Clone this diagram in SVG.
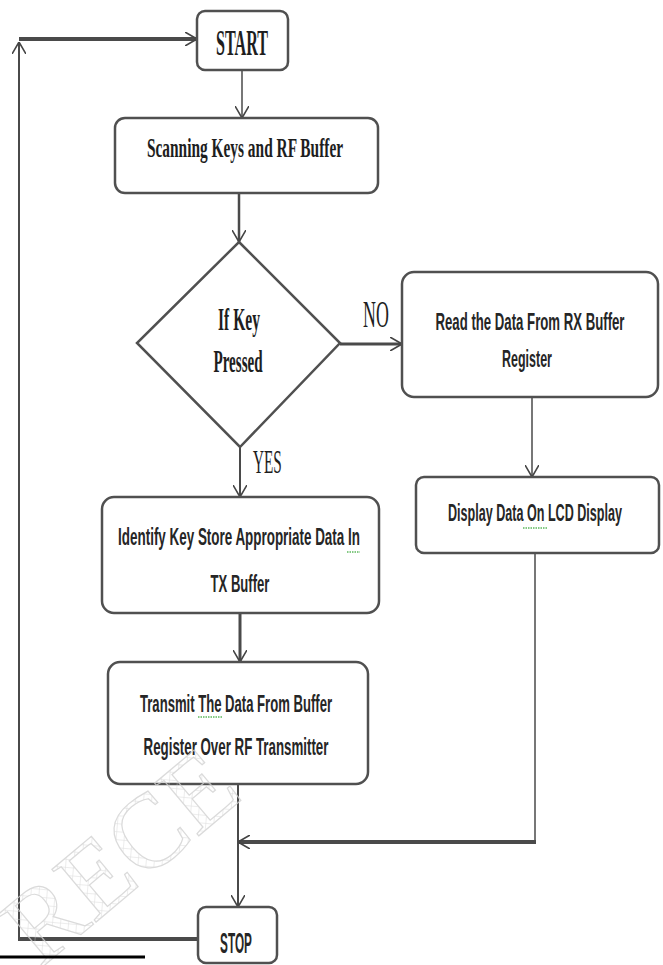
<svg xmlns="http://www.w3.org/2000/svg" width="663" height="965" viewBox="0 0 663 965">
<defs>
<style>
.box{fill:#fff;stroke:#505050;stroke-width:2.5}
.serif{font-family:"Liberation Serif","Times New Roman",serif;font-weight:bold;fill:#1e1e1e;text-anchor:middle}
.sans{font-family:"Liberation Sans",Arial,sans-serif;font-weight:bold;fill:#262626;text-anchor:middle}
.lbl{font-family:"Liberation Serif","Times New Roman",serif;fill:#1e1e1e}
.con{fill:none;stroke:#4a4a4a;stroke-linejoin:miter}
.sq{stroke:#5cb85c;stroke-width:1.5;stroke-dasharray:1.5 1;fill:none}
</style>
<marker id="arr" viewBox="0 0 12 14" refX="12" refY="7" markerWidth="12" markerHeight="14" markerUnits="userSpaceOnUse" orient="auto">
<path d="M0,0 L12,7 L0,14" fill="none" stroke="#444" stroke-width="1.6"/>
</marker>
<pattern id="hatch" width="8" height="8" patternUnits="userSpaceOnUse" patternTransform="rotate(45)">
<path d="M0,0 L0,8 M0,0 L8,0" stroke="#d4d4d4" stroke-width="1"/>
</pattern>
</defs>
<rect width="663" height="965" fill="#fff"/>
<g id="connectors">
<line class="con" x1="242" y1="70" x2="242" y2="118" stroke-width="1.5" marker-end="url(#arr)"/>
<line class="con" x1="239" y1="193" x2="239" y2="242" stroke-width="2.5" marker-end="url(#arr)"/>
<line class="con" x1="340" y1="344" x2="402" y2="344" stroke-width="3" marker-end="url(#arr)"/>
<line class="con" x1="240" y1="447" x2="240" y2="497" stroke-width="2" marker-end="url(#arr)"/>
<line class="con" x1="532" y1="397" x2="532" y2="477" stroke-width="1.5" marker-end="url(#arr)"/>
<line class="con" x1="240" y1="613" x2="240" y2="662" stroke-width="3" marker-end="url(#arr)"/>
<line class="con" x1="238" y1="784" x2="238" y2="907" stroke-width="2" marker-end="url(#arr)"/>
<line class="con" x1="535" y1="553" x2="535" y2="842" stroke-width="1.5"/>
<line class="con" x1="536" y1="842" x2="238" y2="842" stroke-width="4" marker-end="url(#arr)"/>
<line class="con" x1="198" y1="939" x2="19" y2="939" stroke-width="4"/>
<line class="con" x1="19" y1="941" x2="19" y2="42" stroke-width="2" marker-end="url(#arr)"/>
<line class="con" x1="19" y1="39" x2="197" y2="39" stroke-width="4" marker-end="url(#arr)"/>
</g>
<g id="start">
<rect class="box" x="197" y="11" width="91" height="59" rx="8"/>
<text class="serif" transform="translate(242,55) scale(0.5,1)" font-size="36" textLength="104" lengthAdjust="spacingAndGlyphs">START</text>
</g>
<g id="scan">
<rect class="box" x="115" y="118" width="263" height="75" rx="10"/>
<text class="serif" transform="translate(245,157) scale(0.6,1)" font-size="28" textLength="327" lengthAdjust="spacingAndGlyphs">Scanning Keys and RF Buffer</text>
</g>
<g id="decision">
<polygon class="box" points="239,242 340,343 240,447 137,343"/>
<text class="serif" transform="translate(239,330) scale(0.6,1)" font-size="32" font-weight="normal" textLength="70" lengthAdjust="spacingAndGlyphs">If Key</text>
<text class="serif" transform="translate(238,372) scale(0.6,1)" font-size="31" font-weight="normal" textLength="82" lengthAdjust="spacingAndGlyphs">Pressed</text>
</g>
<g id="labels">
<text class="lbl" transform="translate(363,327) scale(0.6,1)" font-size="38" textLength="43" lengthAdjust="spacingAndGlyphs">NO</text>
<text class="lbl" transform="translate(253,473) scale(0.6,1)" font-size="33" textLength="48" lengthAdjust="spacingAndGlyphs">YES</text>
</g>
<g id="read">
<rect class="box" x="402" y="272" width="256" height="125" rx="12"/>
<text class="sans" transform="translate(530,330) scale(0.6,1)" font-size="24" textLength="315" lengthAdjust="spacingAndGlyphs">Read the Data From RX Buffer</text>
<text class="sans" transform="translate(527,367) scale(0.6,1)" font-size="24" textLength="83" lengthAdjust="spacingAndGlyphs">Register</text>
</g>
<g id="display">
<rect class="box" x="416" y="477" width="243" height="76" rx="8"/>
<text class="sans" transform="translate(535,521) scale(0.6,1)" font-size="24" textLength="290" lengthAdjust="spacingAndGlyphs">Display Data On LCD Display</text>
<path class="sq" d="M523,528 L547,528"/>
</g>
<g id="identify">
<rect class="box" x="102" y="497" width="277" height="116" rx="12"/>
<text class="sans" transform="translate(239,545) scale(0.6,1)" font-size="24" textLength="403" lengthAdjust="spacingAndGlyphs">Identify Key Store Appropriate Data In</text>
<text class="sans" transform="translate(240,592) scale(0.6,1)" font-size="24" textLength="98" lengthAdjust="spacingAndGlyphs">TX Buffer</text>
<path class="sq" d="M347,552 L360,552"/>
</g>
<g id="transmit">
<rect class="box" x="108" y="662" width="260" height="122" rx="12"/>
<text class="sans" transform="translate(236,712) scale(0.6,1)" font-size="24" textLength="320" lengthAdjust="spacingAndGlyphs">Transmit The Data From Buffer</text>
<text class="sans" transform="translate(236,755) scale(0.6,1)" font-size="24" textLength="308" lengthAdjust="spacingAndGlyphs">Register Over RF Transmitter</text>
<path class="sq" d="M198,717 L223,717"/>
</g>
<g id="stop">
<rect class="box" x="198" y="907" width="79" height="56" rx="8"/>
<text class="sans" transform="translate(236,953) scale(0.6,1)" font-size="30" textLength="53" lengthAdjust="spacingAndGlyphs">STOP</text>
</g>
<g id="watermark" opacity="0.8">
<text x="0" y="0" transform="translate(40,969) rotate(-40)" font-family="Liberation Serif,serif" font-size="105" fill="url(#hatch)" stroke="#d2d2d2" stroke-width="1.2">RECE</text>
</g>
<line x1="0" y1="957" x2="145" y2="957" stroke="#000" stroke-width="3"/>
</svg>
